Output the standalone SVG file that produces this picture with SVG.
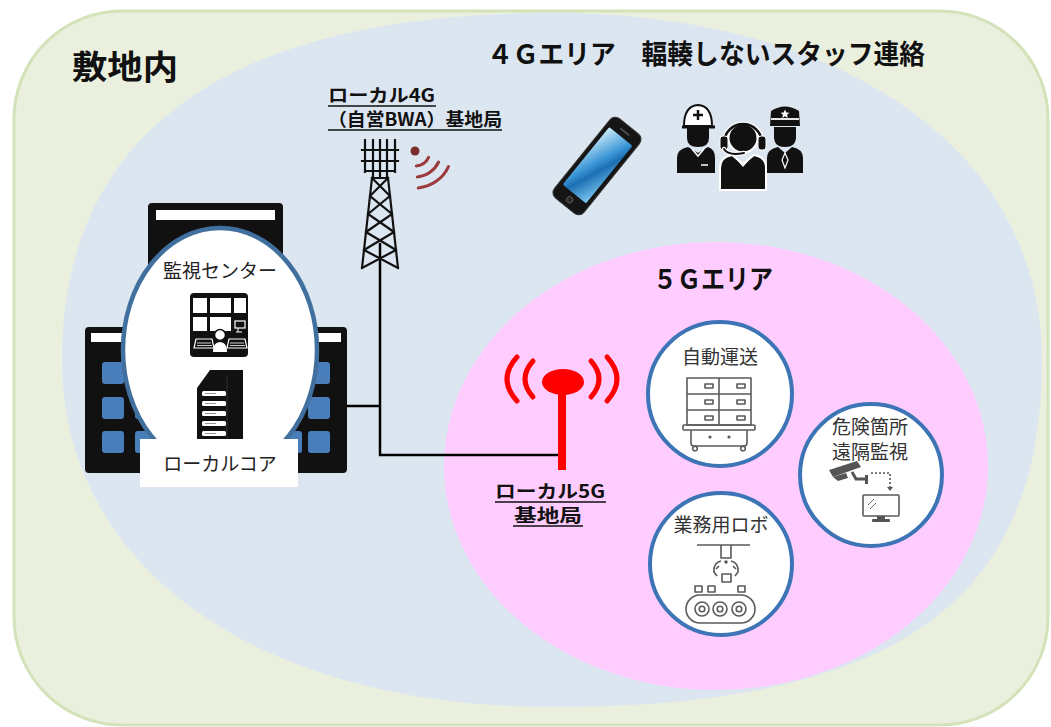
<svg xmlns="http://www.w3.org/2000/svg" width="1051" height="727" viewBox="0 0 1051 727">
  <defs>
    <style>
      .jp { font-family: "Noto Sans CJK JP", "Noto Sans", sans-serif; }
      .hd { font-weight: bold; fill: #111; }
      .lbl { font-size: 19px; fill: #333; }
      .ul { stroke: #111; stroke-width: 1.6; }
      .svc { fill: #fff; stroke: #3D74B6; stroke-width: 4; }
      .ico { fill: none; stroke: #5a5a5a; stroke-width: 1.6; stroke-linejoin: round; }
      .wave5 { fill: none; stroke: #FF0000; stroke-width: 5; stroke-linecap: round; }
      .wave4 { fill: none; stroke: #9B3B3B; stroke-width: 3; stroke-linecap: round; }
      .link { fill: none; stroke: #000; stroke-width: 2.5; }
      .win { fill: #4A7EBB; }
      .lat { fill: none; stroke: #111; stroke-width: 2.2; stroke-linecap: square; }
    </style>
    <linearGradient id="screen" x1="0" y1="0" x2="1" y2="1">
      <stop offset="0" stop-color="#CDEBFA"/>
      <stop offset="0.45" stop-color="#3A95D6"/>
      <stop offset="0.6" stop-color="#1C6FB2"/>
      <stop offset="1" stop-color="#7CC8F2"/>
    </linearGradient>
  </defs>

  <rect width="1051" height="727" fill="#fff"/>

  <!-- site boundary -->
  <g id="site">
    <rect x="14" y="11" width="1034" height="714" rx="108" fill="#EBF0DE" stroke="#D3E2B8" stroke-width="3"/>
    <text class="jp hd" x="72" y="79" font-size="33" textLength="106" lengthAdjust="spacingAndGlyphs">敷地内</text>
  </g>

  <!-- 4G coverage -->
  <g id="area-4g">
    <path d="M62 360 C62 131 229 13 552 13 C846 13 1042 152 1042 360 C1042 603 895 707 552 707 C258 707 62 568 62 360 Z" fill="#DCE6F1"/>
    <text class="jp hd" x="487" y="64" font-size="27" textLength="438" lengthAdjust="spacingAndGlyphs">４Ｇエリア　輻輳しないスタッフ連絡</text>
  </g>

  <!-- 5G coverage -->
  <g id="area-5g">
    <ellipse cx="716" cy="466" rx="272" ry="224" fill="#FFCCFF"/>
    <text class="jp hd" x="653" y="289" font-size="27" textLength="120" lengthAdjust="spacingAndGlyphs">５Ｇエリア</text>
  </g>

  <!-- connectors -->
  <g id="connectors">
    <path class="link" d="M243 406 H380"/>
    <path class="link" d="M380 243 V455 H563"/>
    <path class="link" d="M220 340 V372"/>
  </g>

  <!-- buildings with monitoring center -->
  <g id="monitoring-center">
    <rect x="148" y="203" width="135" height="270" rx="4" fill="#111"/>
    <rect x="156" y="210" width="119" height="10" fill="#fff"/>
    <rect x="85" y="327" width="262" height="146" rx="4" fill="#111"/>
    <rect x="91" y="333" width="250" height="9" fill="#fff"/>
    <rect class="win" x="102" y="362" width="22" height="22" rx="3"/>
    <rect class="win" x="102" y="397" width="22" height="22" rx="3"/>
    <rect class="win" x="102" y="431" width="22" height="22" rx="3"/>
    <rect class="win" x="135" y="362" width="22" height="22" rx="3"/>
    <rect class="win" x="135" y="397" width="22" height="22" rx="3"/>
    <rect class="win" x="135" y="431" width="22" height="22" rx="3"/>
    <rect class="win" x="280" y="362" width="22" height="22" rx="3"/>
    <rect class="win" x="280" y="397" width="22" height="22" rx="3"/>
    <rect class="win" x="280" y="431" width="22" height="22" rx="3"/>
    <rect class="win" x="308" y="362" width="22" height="22" rx="3"/>
    <rect class="win" x="308" y="397" width="22" height="22" rx="3"/>
    <rect class="win" x="308" y="431" width="22" height="22" rx="3"/>

    <ellipse cx="220" cy="350" rx="97" ry="122" fill="#fff" stroke="#41709F" stroke-width="4.5"/>
    <text class="jp" x="220" y="278" font-size="19" fill="#222" text-anchor="middle">監視センター</text>

    <!-- video wall and console -->
    <rect x="190" y="293" width="58" height="64" rx="4" fill="#111"/>
    <rect x="193" y="298" width="14" height="15" fill="#fff"/>
    <rect x="210" y="298" width="21" height="15" fill="#fff"/>
    <rect x="234" y="298" width="12" height="15" fill="#fff"/>
    <rect x="193" y="317" width="14" height="14" fill="#fff"/>
    <rect x="210" y="317" width="21" height="14" fill="#fff"/>
    <rect x="235" y="321" width="10" height="7" fill="none" stroke="#fff" stroke-width="1.2"/>
    <path d="M238 328 V332 M236 332 H242" stroke="#fff" stroke-width="1"/>
    <path d="M196 339 H212 L214 348 H194 Z" fill="none" stroke="#fff" stroke-width="1.2"/>
    <path d="M197 343 H211 M197 345.5 H212" stroke="#fff" stroke-width="0.8"/>
    <path d="M229 339 H245 L247 348 H227 Z" fill="none" stroke="#fff" stroke-width="1.2"/>
    <path d="M230 343 H244 M230 345.5 H245" stroke="#fff" stroke-width="0.8"/>
    <path d="M213 352 Q213 342 220 342 Q227 342 227 352 Z" fill="#fff"/>
    <circle cx="220" cy="335" r="5.5" fill="#fff" stroke="#111" stroke-width="1.5"/>

    <!-- core server -->
    <path d="M210 370 H243 V440 H197 V388 Z" fill="#111"/>
    <path d="M227 376 V440" stroke="#333" stroke-width="1"/>
    <rect x="202" y="391" width="24" height="5" rx="1.5" fill="#fff"/>
    <rect x="202" y="401" width="24" height="5" rx="1.5" fill="#fff"/>
    <rect x="202" y="411" width="24" height="5" rx="1.5" fill="#fff"/>
    <rect x="202" y="421" width="24" height="5" rx="1.5" fill="#fff"/>
    <rect x="202" y="431" width="24" height="5" rx="1.5" fill="#fff"/>
    <path d="M205 393.5 H216 M205 403.5 H216 M205 413.5 H216 M205 423.5 H216 M205 433.5 H216" stroke="#777" stroke-width="0.8"/>

    <rect x="140" y="439" width="158" height="48" fill="#fff"/>
    <text class="jp" x="220" y="471" font-size="19" fill="#222" text-anchor="middle">ローカルコア</text>
  </g>

  <!-- local 4G (BWA) base station -->
  <g id="bs-4g">
    <path class="lat" d="M365 140 V172 M395 140 V172 M373 140 V178 M380 140 V178 M387 140 V178 M362 150 H398 M362 161 H398 M367 171 H393"/>
    <path class="lat" d="M372 178 L362 268 M388 178 L398 268
      M372 178 L390 196 M388 178 L370 196
      M370 196 L392 214 M390 196 L368 214
      M368 214 L394 232 M392 214 L366 232
      M366 232 L396 250 M394 232 L364 250
      M364 250 L398 268 M396 250 L362 268
      M372 178 H388"/>
    <circle cx="415" cy="151" r="4.5" fill="#7B2C2C"/>
    <path class="wave4" d="M428.6 157.3 A15 15 0 0 1 416.3 165.9"/>
    <path class="wave4" d="M438.6 162 A26 26 0 0 1 417.3 176.9"/>
    <path class="wave4" d="M448.5 166.6 A37 37 0 0 1 418.2 187.9"/>
    <text class="jp hd" x="328" y="102" font-size="18" textLength="107" lengthAdjust="spacingAndGlyphs">ローカル4G</text>
    <line class="ul" x1="328" y1="106" x2="436" y2="106"/>
    <text class="jp hd" x="328" y="126" font-size="18" textLength="174" lengthAdjust="spacingAndGlyphs">（自営BWA）基地局</text>
    <line class="ul" x1="328" y1="130" x2="502" y2="130"/>
  </g>

  <!-- smartphone -->
  <g id="smartphone" transform="translate(597 166) rotate(39)">
    <rect x="-19" y="-51" width="38" height="102" rx="7" fill="#151515" stroke="#333" stroke-width="1"/>
    <rect x="-15" y="-38" width="30" height="74" rx="1.5" fill="url(#screen)"/>
    <line x1="-5" y1="-44" x2="5" y2="-44" stroke="#555" stroke-width="1.5" stroke-linecap="round"/>
    <circle cx="0" cy="43.5" r="3.2" fill="#2a2a2a" stroke="#666" stroke-width="0.8"/>
  </g>

  <!-- staff -->
  <g id="staff">
    <!-- worker -->
    <path d="M677 173 V158 Q677 149 688 147 L698 153 L708 147 Q715 149 715 158 V173 Z" fill="#111"/>
    <path d="M692 149 L698 156 L704 149" fill="none" stroke="#fff" stroke-width="1.5"/>
    <line x1="701" y1="165" x2="708" y2="165" stroke="#fff" stroke-width="1.5"/>
    <path d="M687 128 H709 V138 Q709 147 698 147 Q687 147 687 138 Z" fill="#111"/>
    <path d="M684 126 Q684 106 698 105 Q712 106 712 126 Z" fill="#fff" stroke="#111" stroke-width="2"/>
    <line x1="682" y1="127" x2="715" y2="127" stroke="#111" stroke-width="3"/>
    <path d="M698 110 V120 M693 115 H703" stroke="#111" stroke-width="2.5"/>
    <!-- officer -->
    <path d="M767 173 V158 Q767 149 778 147 L785 153 L792 147 Q803 149 803 158 V173 Z" fill="#111"/>
    <path d="M785 153 L782 160 L785 168 L788 160 Z" fill="none" stroke="#fff" stroke-width="1.2"/>
    <path d="M774 127 H796 V137 Q796 147 785 147 Q774 147 774 137 Z" fill="#111"/>
    <path d="M770 126 L771 111 Q785 102 799 111 L800 126 Z" fill="#111"/>
    <line x1="771" y1="119" x2="799" y2="119" stroke="#fff" stroke-width="1.8"/>
    <path d="M785 109.5 L786.3 112.6 L789.5 112.8 L787 114.8 L787.8 118 L785 116.3 L782.2 118 L783 114.8 L780.5 112.8 L783.7 112.6 Z" fill="#fff"/>
    <!-- operator -->
    <path d="M720 190 V168 Q720 157 732 155 L743 164 L754 155 Q766 157 766 168 V190 Z" fill="#111" stroke="#fff" stroke-width="2"/>
    <path d="M736 158 L743 166 L750 158" fill="none" stroke="#fff" stroke-width="1.3"/>
    <path d="M724 143 A19 19 0 0 1 762 143" fill="none" stroke="#fff" stroke-width="5"/>
    <circle cx="743" cy="138" r="14.5" fill="#111" stroke="#fff" stroke-width="2"/>
    <path d="M724 143 A19 19 0 0 1 762 143" fill="none" stroke="#111" stroke-width="2.5"/>
    <rect x="720" y="136" width="8" height="14" rx="3" fill="#111" stroke="#fff" stroke-width="1"/>
    <rect x="758" y="136" width="8" height="14" rx="3" fill="#111" stroke="#fff" stroke-width="1"/>
    <path d="M724 149 Q728 156 744 153" fill="none" stroke="#fff" stroke-width="4.5" stroke-linecap="round"/>
    <path d="M724 149 Q728 156 744 153" fill="none" stroke="#111" stroke-width="2" stroke-linecap="round"/>
  </g>

  <!-- local 5G base station -->
  <g id="bs-5g">
    <rect x="558" y="388" width="8" height="82" fill="#FF0000"/>
    <ellipse cx="563" cy="382" rx="21" ry="13" fill="#FF0000"/>
    <path class="wave5" d="M517 357 Q497 379 517 401"/>
    <path class="wave5" d="M533 361 Q517 379 533 397"/>
    <path class="wave5" d="M591 361 Q607 379 591 397"/>
    <path class="wave5" d="M607 357 Q627 379 607 401"/>
    <text class="jp hd" x="495" y="498" font-size="18" textLength="110" lengthAdjust="spacingAndGlyphs">ローカル5G</text>
    <line class="ul" x1="495" y1="502" x2="606" y2="502"/>
    <text class="jp hd" x="514" y="522" font-size="18" textLength="68" lengthAdjust="spacingAndGlyphs">基地局</text>
    <line class="ul" x1="513" y1="526" x2="583" y2="526"/>
  </g>

  <!-- automated transport -->
  <g id="svc-transport">
    <circle class="svc" cx="720" cy="394" r="72"/>
    <text class="jp lbl" x="720" y="364" text-anchor="middle">自動運送</text>
    <rect class="ico" x="687" y="378" width="64" height="47"/>
    <path class="ico" d="M687 394 H751 M687 410 H751 M719 378 V425"/>
    <rect class="ico" x="705" y="384" width="8" height="4" stroke-width="1"/>
    <rect class="ico" x="737" y="384" width="8" height="4" stroke-width="1"/>
    <rect class="ico" x="705" y="400" width="8" height="4" stroke-width="1"/>
    <rect class="ico" x="737" y="400" width="8" height="4" stroke-width="1"/>
    <rect class="ico" x="705" y="416" width="8" height="4" stroke-width="1"/>
    <rect class="ico" x="737" y="416" width="8" height="4" stroke-width="1"/>
    <rect class="ico" x="683" y="425" width="72" height="5" rx="1"/>
    <path class="ico" d="M691 430 V443 Q691 446 694 446 H744 Q747 446 747 443 V430"/>
    <circle cx="710" cy="437" r="1.6" fill="#5a5a5a"/>
    <circle cx="729" cy="437" r="1.6" fill="#5a5a5a"/>
    <circle class="ico" cx="695" cy="448.5" r="2.3"/>
    <circle class="ico" cx="743" cy="448.5" r="2.3"/>
  </g>

  <!-- remote monitoring of hazardous spots -->
  <g id="svc-monitoring">
    <circle class="svc" cx="871" cy="475" r="71"/>
    <text class="jp lbl" x="870" y="434" text-anchor="middle">危険箇所</text>
    <text class="jp lbl" x="870" y="459" text-anchor="middle">遠隔監視</text>
    <path d="M829 470 L857 461 L861 467 L833 477 Z" fill="#555"/>
    <path d="M833 477 L846 473 L848 478 L838 481 Z" fill="#555"/>
    <path d="M852 472 L856 479 H865" fill="none" stroke="#555" stroke-width="3"/>
    <rect x="865" y="475" width="3" height="9" fill="#555"/>
    <path d="M871 473 H890 V487" fill="none" stroke="#555" stroke-width="1.6" stroke-dasharray="2 2"/>
    <path d="M887 487 H893 L890 491 Z" fill="#555"/>
    <rect class="ico" x="863" y="495" width="36" height="21" rx="1" stroke-width="1.8"/>
    <rect x="877" y="516" width="8" height="3" fill="#555"/>
    <rect x="872" y="519" width="18" height="3" rx="1" fill="#555"/>
    <path d="M868 505 L874 499 M870 509 L876 503" stroke="#666" stroke-width="1"/>
  </g>

  <!-- service robot -->
  <g id="svc-robot">
    <circle class="svc" cx="721" cy="564" r="71"/>
    <text class="jp lbl" x="721" y="532" text-anchor="middle">業務用ロボ</text>
    <path class="ico" d="M697 545 H750"/>
    <path class="ico" d="M721 545 V558 H731 V545"/>
    <circle cx="726" cy="562" r="1.8" fill="#5a5a5a"/>
    <path class="ico" d="M721 561 Q713 563 714 572 L717 576 M731 561 Q739 563 738 572 L735 576"/>
    <path class="ico" d="M719 566 L716 569 M733 566 L736 569"/>
    <rect class="ico" x="722" y="574" width="9" height="8"/>
    <rect class="ico" x="695" y="586" width="7" height="6"/>
    <rect class="ico" x="708" y="586" width="7" height="6"/>
    <rect class="ico" x="738" y="586" width="7" height="6"/>
    <rect class="ico" x="686" y="595" width="69" height="28" rx="14"/>
    <circle class="ico" cx="702" cy="609" r="7"/>
    <circle class="ico" cx="702" cy="609" r="2.8"/>
    <circle class="ico" cx="720" cy="609" r="7"/>
    <circle class="ico" cx="720" cy="609" r="2.8"/>
    <circle class="ico" cx="739" cy="609" r="7"/>
    <circle class="ico" cx="739" cy="609" r="2.8"/>
  </g>
</svg>
